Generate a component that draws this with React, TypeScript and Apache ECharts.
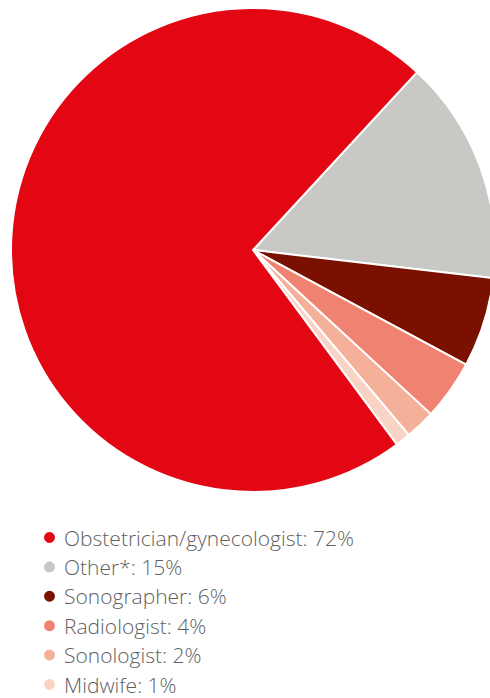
import React, { useEffect, useRef } from "react";
import * as echarts from "echarts";

const categories = [
  "Obstetrician/gynecologist",
  "Other*",
  "Sonographer",
  "Radiologist",
  "Sonologist",
  "Midwife",
];
const values = [72, 15, 6, 4, 2, 1];
const colors = ["#e30613", "#c8c8c4", "#7a1000", "#f08272", "#f5b09a", "#f9d3c3"];

// drawing order (clockwise from top-right): Other, Sonographer, Radiologist, Sonologist, Midwife, Obstetrician
const drawOrder = [1, 2, 3, 4, 5, 0];

export default function App() {
  const ref = useRef<HTMLDivElement>(null);
  useEffect(() => {
    document.body.style.margin = "0";
    const chart = echarts.init(ref.current!, null, { renderer: "svg" });
    chart.setOption({
      animation: false,
      legend: {
        orient: "vertical",
        left: 37,
        top: 522,
        height: 200,
        icon: "circle",
        itemWidth: 13,
        itemHeight: 13,
        itemGap: 8.4,
        selectedMode: false,
        textStyle: {
          fontFamily: "Open Sans",
          fontSize: 21,
          fontWeight: 300,
          lineHeight: 21,
          color: "#5f5f5f",
          padding: [0, 0, 0, 3],
        },
        formatter: (name: string) => {
          const i = categories.indexOf(name);
          return `${name}: ${values[i]}%`;
        },
        data: categories,
      },
      series: [
        {
          type: "pie",
          center: [253, 250],
          radius: 242,
          startAngle: 47.3,
          clockwise: true,
          label: { show: false },
          labelLine: { show: false },
          emphasis: { disabled: true },
          itemStyle: { borderColor: "#ffffff", borderWidth: 2 },
          data: drawOrder.map((i) => ({
            name: categories[i],
            value: values[i],
            itemStyle: { color: colors[i] },
          })),
        },
      ],
    });
    return () => chart.dispose();
  }, []);
  return (
    <div
      ref={ref}
      style={{ position: "absolute", left: 0, top: 0, width: 490, height: 698 }}
    />
  );
}
